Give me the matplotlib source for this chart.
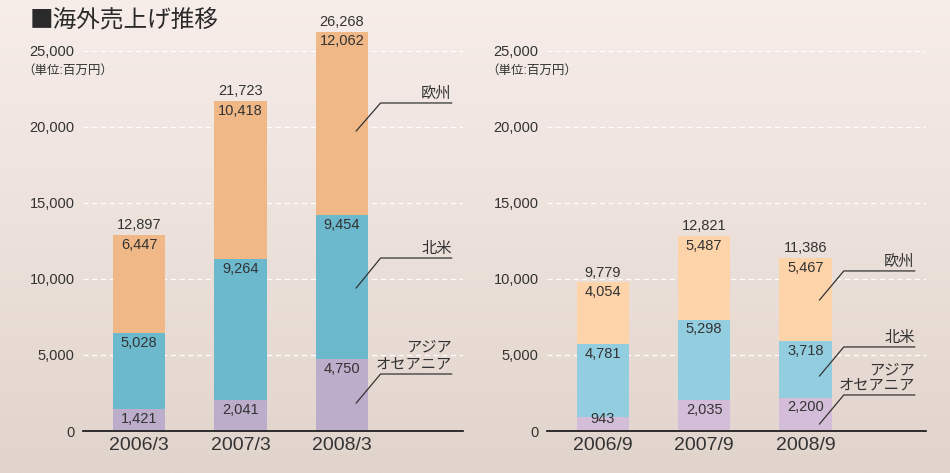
import numpy as np
import matplotlib.pyplot as plt

plt.rcParams['font.family'] = ['Liberation Sans', 'Noto Sans CJK JP', 'DejaVu Sans']

# 海外売上げ（単位:百万円）
periods_a = ['2006/3', '2007/3', '2008/3']
asia_a = [1421, 2041, 4750]
namerica_a = [5028, 9264, 9454]
europe_a = [6447, 10418, 12062]
total_a = [12897, 21723, 26268]

periods_b = ['2006/9', '2007/9', '2008/9']
asia_b = [943, 2035, 2200]
namerica_b = [4781, 5298, 3718]
europe_b = [4054, 5487, 5467]
total_b = [9779, 12821, 11386]

yticks = [0, 5000, 10000, 15000, 20000, 25000]
txt = '#333333'

fig = plt.figure(figsize=(9.5, 4.73), dpi=100)

# background gradient
bg = fig.add_axes([0, 0, 1, 1], zorder=-10)
grad = np.linspace(0, 1, 256).reshape(-1, 1)
top = np.array([247, 237, 233]) / 255
bot = np.array([225, 212, 204]) / 255
img = top + (bot - top) * grad[:, :, None]
bg.imshow(img, aspect='auto', extent=[0, 1, 0, 1])
bg.axis('off')

fig.text(0.031, 0.958, '■海外売上げ推移', fontsize=17, color='#2a2a2a', va='center', ha='left',
         family=['Noto Sans CJK JP'])


def panel(rect, periods, asia, nam, eur, tot, cols, leaders):
    ax = fig.add_axes(rect)
    ax.patch.set_alpha(0)
    x = np.arange(len(periods))
    w = 0.52
    ax.bar(x, asia, w, color=cols[0], zorder=2)
    ax.bar(x, nam, w, bottom=asia, color=cols[1], zorder=2)
    b2 = np.array(asia) + np.array(nam)
    ax.bar(x, eur, w, bottom=b2, color=cols[2], zorder=2)
    for i in range(len(x)):
        for top_v, v in [(asia[i], asia[i]), (b2[i], nam[i]), (tot[i], eur[i])]:
            off = -7 if v >= 1000 else -2  # small segment: label sits higher
            ax.annotate(f'{v:,}', (x[i], top_v), xytext=(0, off), textcoords='offset points',
                        ha='center', va='center', fontsize=10.5, color=txt, zorder=4)
        ax.annotate(f'{tot[i]:,}', (x[i], tot[i]), xytext=(0, 7), textcoords='offset points',
                    ha='center', va='center', fontsize=10.5, color=txt, zorder=4)

    ax.set_xlim(-0.552, 3.192)
    ax.set_ylim(0, 27000)
    for s in ['top', 'right', 'left']:
        ax.spines[s].set_visible(False)
    ax.spines['bottom'].set_color('#111111')
    ax.spines['bottom'].set_linewidth(1.2)
    ax.set_yticks(yticks)
    ax.set_yticklabels([f'{t:,}' for t in yticks], fontsize=10.5, color=txt)
    ax.set_xticks(x)
    ax.set_xticklabels(periods, fontsize=14, color=txt)
    ax.tick_params(axis='both', length=0)
    ax.tick_params(axis='y', pad=6)
    ax.tick_params(axis='x', pad=4)
    for t in yticks[1:]:
        ax.axhline(t, color='white', lw=0.9, ls=(0, (4, 3)), zorder=1)
    ax.text(-0.16, 23700, '（単位:百万円）', transform=ax.get_yaxis_transform(), fontsize=9,
            color=txt, ha='left', va='center', zorder=4)

    # leader lines and region names
    for (name, y0, y1, ls) in leaders:
        ax.plot([2.14, 2.38, 3.08], [y0, y1, y1], color='#333333', lw=0.9, zorder=3,
                clip_on=False)
        ax.annotate(name, (3.08, y1), xytext=(0, 1.5), textcoords='offset points',
                    ha='right', va='bottom', fontsize=11, color=txt,
                    linespacing=ls, zorder=4)
    return ax


panel([83 / 950, 42 / 473, 380 / 950, 410.4 / 473], periods_a, asia_a, namerica_a, europe_a,
      total_a, ['#bcadcb', '#6cb9ce', '#efb886'],
      [('欧州', 19740, 21580, 1.0), ('北米', 9410, 11380, 1.0),
       ('アジア\nオセアニア', 1840, 3750, 1.35)])

panel([547 / 950, 42 / 473, 379 / 950, 410.4 / 473], periods_b, asia_b, namerica_b, europe_b,
      total_b, ['#d4bdd8', '#93cde0', '#fdd3aa'],
      [('欧州', 8620, 10530, 1.0), ('北米', 3620, 5530, 1.0),
       ('アジア\nオセアニア', 460, 2370, 1.15)])

fig.savefig('out.png', dpi=100)
